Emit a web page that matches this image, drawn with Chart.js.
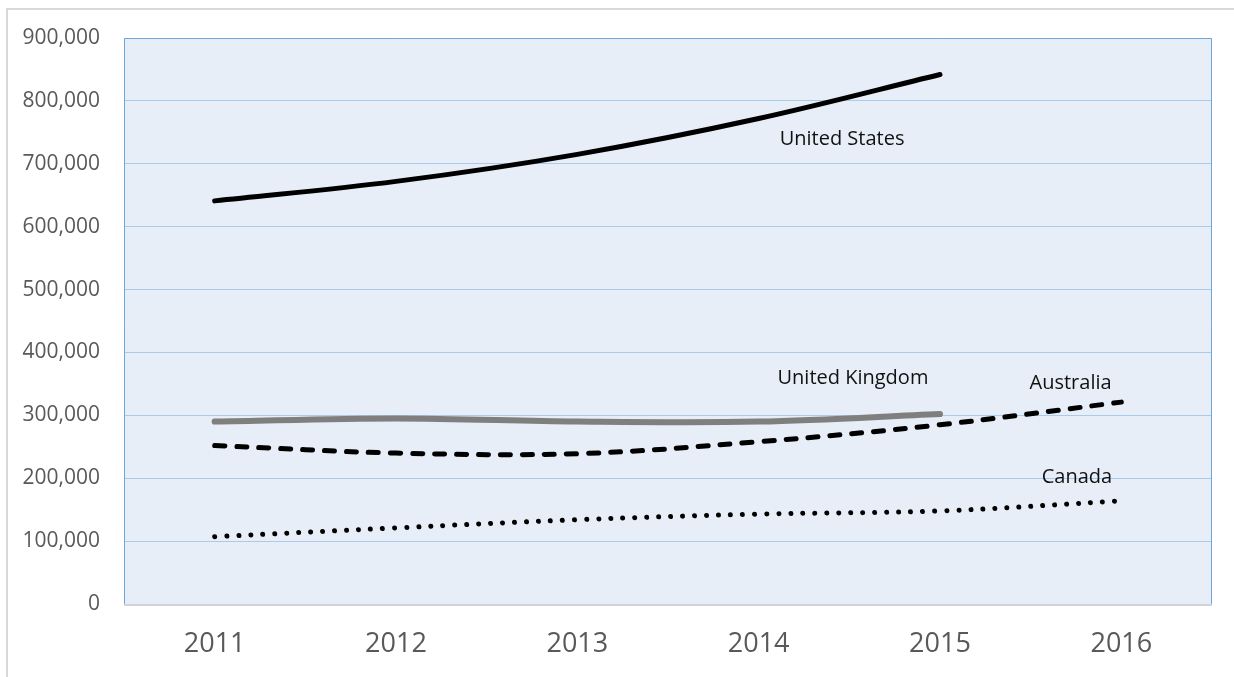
<!DOCTYPE html>
<html lang="en">
<head>
  <meta charset="UTF-8" />
  <title>Line chart</title>
  <script src="https://cdn.jsdelivr.net/npm/chart.js"></script>
  <style>
    html, body { margin: 0; padding: 0; background: #fff; }
    .wrap { width: 1234px; height: 677px; position: relative; }
  </style>
</head>
<body>
  <div class="wrap">
    <canvas id="lineChart"></canvas>
  </div>

  <script>
    // data
    const years = ['2011', '2012', '2013', '2014', '2015', '2016'];
    const unitedStates = [641000, 672000, 715000, 772000, 842000, null];
    const unitedKingdom = [290000, 295000, 290000, 290000, 302000, null];
    const australia = [252000, 240000, 239000, 258000, 285000, 321000];
    const canada = [107000, 121000, 134000, 143000, 148000, 164000];
    const yTicks = [0, 100000, 200000, 300000, 400000, 500000, 600000, 700000, 800000, 900000];

    // series names written next to the lines (anchored in data units)
    const seriesLabels = [
      { text: 'United States', at: 3.46, value: 739000 },
      { text: 'United Kingdom', at: 3.52, value: 359000 },
      { text: 'Australia', at: 4.72, value: 351000 },
      { text: 'Canada', at: 4.755, value: 201000 }
    ];

    const FONT = '"Open Sans", "DejaVu Sans", sans-serif';

    // plot background, borders and the outer frame
    const framePlugin = {
      id: 'frame',
      beforeDraw(chart) {
        const c = chart.ctx;
        const a = chart.chartArea;
        c.save();
        c.fillStyle = '#ffffff';
        c.fillRect(0, 0, chart.width, chart.height);
        c.strokeStyle = '#d9d9d9';
        c.lineWidth = 2;
        c.beginPath();
        c.moveTo(7, chart.height);
        c.lineTo(7, 9);
        c.lineTo(chart.width, 9);
        c.stroke();
        c.fillStyle = '#e7eef8';
        c.fillRect(a.left, a.top, a.right - a.left, a.bottom - a.top);
        c.restore();
      },
      afterDatasetsDraw(chart) {
        const c = chart.ctx;
        const a = chart.chartArea;
        c.save();
        c.lineWidth = 1;
        c.strokeStyle = '#6fa6dc';
        c.beginPath();
        c.moveTo(a.left + 0.5, a.bottom);
        c.lineTo(a.left + 0.5, a.top + 0.5);
        c.lineTo(a.right - 0.5, a.top + 0.5);
        c.lineTo(a.right - 0.5, a.bottom);
        c.stroke();
        c.strokeStyle = '#d0d4d9';
        c.lineWidth = 2;
        c.beginPath();
        c.moveTo(a.left, a.bottom + 1);
        c.lineTo(a.right, a.bottom + 1);
        c.stroke();

        const xs = chart.scales.x;
        const ys = chart.scales.y;
        c.fillStyle = '#111111';
        c.font = '20px ' + FONT;
        c.textAlign = 'center';
        c.textBaseline = 'middle';
        seriesLabels.forEach(l => {
          c.fillText(l.text, xs.getPixelForValue(l.at), ys.getPixelForValue(l.value));
        });
        c.restore();
      }
    };

    const ctx = document.getElementById('lineChart').getContext('2d');

    const chart = new Chart(ctx, {
      type: 'line',
      data: {
        labels: years,
        datasets: [
          {
            label: 'United States',
            data: unitedStates,
            borderColor: '#000000',
            borderWidth: 5,
            borderCapStyle: 'round',
            tension: 0.35,
            pointRadius: 0
          },
          {
            label: 'United Kingdom',
            data: unitedKingdom,
            borderColor: '#7f7f7f',
            borderWidth: 6,
            borderCapStyle: 'round',
            tension: 0.35,
            pointRadius: 0
          },
          {
            label: 'Australia',
            data: australia,
            borderColor: '#000000',
            borderWidth: 5,
            borderCapStyle: 'round',
            borderDash: [10, 12],
            tension: 0.35,
            pointRadius: 0
          },
          {
            label: 'Canada',
            data: canada,
            borderColor: '#000000',
            borderWidth: 5,
            borderCapStyle: 'round',
            borderDash: [0.01, 12],
            tension: 0.35,
            pointRadius: 0
          }
        ]
      },
      options: {
        responsive: true,
        maintainAspectRatio: false,
        animation: false,
        layout: {
          padding: { left: 0, top: 38, right: 22, bottom: 0 }
        },
        plugins: {
          legend: { display: false },
          tooltip: { enabled: false }
        },
        scales: {
          x: {
            offset: true,
            grid: { display: false, drawTicks: false },
            border: { display: false },
            ticks: {
              color: '#595959',
              font: { family: FONT, size: 27 },
              padding: 24,
              maxRotation: 0
            },
            afterFit(scale) { scale.height = 73; }
          },
          y: {
            min: 0,
            max: 900000,
            grid: { color: '#a9cbeb', lineWidth: 1, drawTicks: false },
            border: { display: false },
            afterBuildTicks(scale) { scale.ticks = yTicks.map(v => ({ value: v })); },
            ticks: {
              color: '#595959',
              font: { family: FONT, size: 21 },
              padding: 24,
              callback: v => v.toLocaleString('en-US')
            },
            afterFit(scale) { scale.width = 124; }
          }
        }
      },
      plugins: [framePlugin]
    });
  </script>
</body>
</html>
